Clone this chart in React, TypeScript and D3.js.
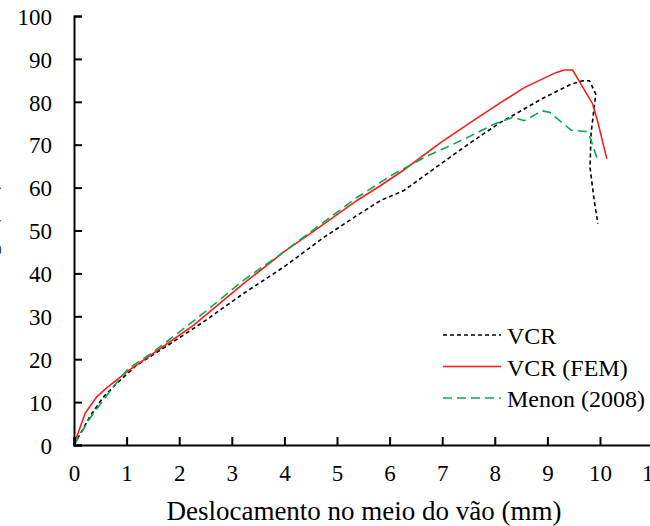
import React, { useRef, useEffect } from 'react';
import * as d3 from 'd3';

// VCR (experimental)
const vcrX = [0, 0.3, 0.56, 0.81, 1.19, 1.83, 2.46, 3.22, 3.99, 4.75, 5.38, 5.83, 6.27, 6.97, 7.54, 8.11, 8.5, 8.88, 9.45, 9.67, 9.8, 9.92, 9.83, 9.81, 9.89, 9.96];
const vcrY = [0, 6.6, 11.2, 14.3, 18.6, 23.6, 28.7, 35.3, 41.5, 48.4, 53.5, 57, 59.3, 65.5, 70.5, 75.2, 77.9, 80.6, 84.1, 84.9, 84.9, 81.8, 72.6, 64.7, 57, 51.6];

// VCR (FEM)
const femX = [0, 0.21, 0.43, 0.62, 1.03, 1.77, 2.27, 2.84, 3.22, 3.99, 4.62, 5.38, 5.83, 6.27, 6.97, 7.54, 8.11, 8.56, 9.16, 9.32, 9.48, 9.86, 9.96, 10.13];
const femY = [0, 7.4, 11.2, 13.3, 17.3, 23.6, 27.9, 33.7, 37.6, 45, 50.4, 57, 60.5, 64.1, 70.5, 75.2, 79.8, 83.3, 86.8, 87.4, 87.4, 79.5, 75.2, 66.7];

// Menon (2008)
const menonX = [0, 0.3, 0.56, 0.75, 1.03, 1.45, 2.02, 2.55, 3.22, 3.99, 4.62, 5.38, 6.08, 6.72, 7.35, 7.99, 8.35, 8.56, 8.9, 9.05, 9.45, 9.73, 9.8, 9.97];
const menonY = [0, 6.2, 10.5, 13.6, 17.8, 21.2, 26.5, 31.6, 38.4, 45, 50.8, 57.7, 63.2, 67.4, 70.9, 74.8, 76.4, 75.6, 77.9, 77.5, 73.4, 73.1, 72.1, 65.9];

const xTicks = [0, 1, 2, 3, 4, 5, 6, 7, 8, 9, 10, 11];
const yTicks = [0, 10, 20, 30, 40, 50, 60, 70, 80, 90, 100];

const seriesNames = ['VCR', 'VCR (FEM)', 'Menon (2008)'];
const seriesColors = ['#000000', '#ff1a1a', '#00b050'];
const seriesDash = ['4,3', null, '9,5'];

const xTitle = 'Deslocamento no meio do vão (mm)';
const yTitle = 'Carga (kN)';

const font = 'Liberation Serif, DejaVu Serif';

function App() {
    const ref = useRef<SVGSVGElement>(null);

    useEffect(() => {
        const svg = d3.select(ref.current);
        svg.selectAll('*').remove();

        const x = d3.scaleLinear().domain([0, 11]).range([74, 74 + 52.6 * 11]);
        const y = d3.scaleLinear().domain([0, 100]).range([445, 16]);

        const series = [
            vcrX.map((v, i) => [v, vcrY[i]]),
            femX.map((v, i) => [v, femY[i]]),
            menonX.map((v, i) => [v, menonY[i]]),
        ];

        const line = d3.line<number[]>().x(d => x(d[0])).y(d => y(d[1]));

        series.forEach((pts, i) => {
            svg.append('path')
                .datum(pts)
                .attr('d', line)
                .attr('fill', 'none')
                .attr('stroke', seriesColors[i])
                .attr('stroke-width', 1.6)
                .attr('stroke-dasharray', seriesDash[i]);
        });

        // y axis
        const yAxis = d3.axisLeft(y).tickValues(yTicks).tickSize(-8).tickPadding(22);
        const gy = svg.append('g').attr('transform', 'translate(74,0)').call(yAxis);
        gy.attr('font-family', font).attr('font-size', 23);
        gy.select('.domain').attr('stroke-width', 2);
        gy.selectAll('.tick line').attr('stroke-width', 2);
        gy.selectAll('.tick text').attr('dy', '0.36em').attr('fill', '#000');

        // x axis
        const xAxis = d3.axisBottom(x).tickValues(xTicks).tickSize(-8).tickPadding(20);
        const gx = svg.append('g').attr('transform', 'translate(0,445)').call(xAxis);
        gx.attr('font-family', font).attr('font-size', 23);
        gx.select('.domain').attr('stroke-width', 2);
        gx.selectAll('.tick line').attr('stroke-width', 2);
        gx.selectAll('.tick text').attr('fill', '#000');

        svg.append('text')
            .attr('x', 364)
            .attr('y', 520)
            .attr('text-anchor', 'middle')
            .attr('font-family', font)
            .attr('font-size', 27)
            .text(xTitle);

        // y title sits almost entirely off the left edge, as in the reference
        svg.append('text')
            .attr('transform', 'translate(-4,290) rotate(-90)')
            .attr('text-anchor', 'start')
            .attr('font-family', font)
            .attr('font-size', 24)
            .attr('fill', '#000')
            .text(yTitle);

        // legend
        const lg = svg.append('g').attr('transform', 'translate(443,335)');
        seriesNames.forEach((name, i) => {
            const row = lg.append('g').attr('transform', `translate(0,${i * 31.5})`);
            row.append('line')
                .attr('x1', 0).attr('x2', 58)
                .attr('stroke', seriesColors[i])
                .attr('stroke-width', 1.6)
                .attr('stroke-dasharray', seriesDash[i]);
            row.append('text')
                .attr('x', 64)
                .attr('y', 9)
                .attr('font-family', font)
                .attr('font-size', 24)
                .text(name);
        });
    }, []);

    return (
        <svg ref={ref} width={650} height={526} style={{ position: 'absolute', left: 0, top: 0 }}></svg>
    );
}

export default App;
